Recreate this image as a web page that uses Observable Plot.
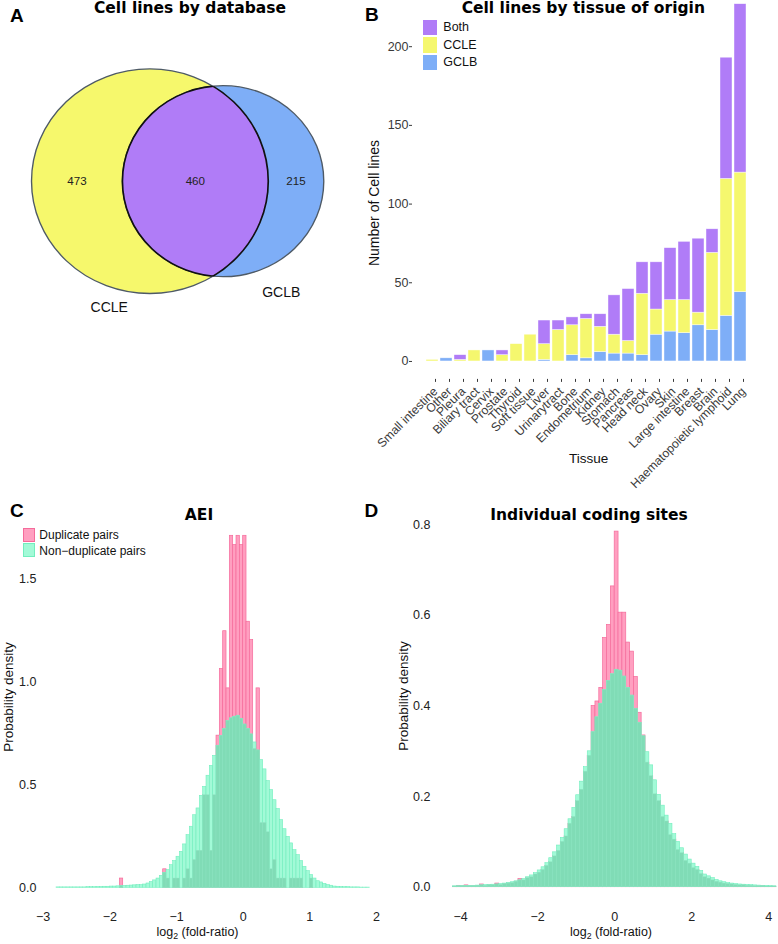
<!DOCTYPE html>
<html><head><meta charset="utf-8">
<script src="https://cdn.jsdelivr.net/npm/d3@7"></script>
<script src="https://cdn.jsdelivr.net/npm/@observablehq/plot@0.6"></script>
<style>
body{margin:0;background:#fff;}
#fig{position:relative;width:778px;height:944px;overflow:hidden;background:#fff;}
.pane{position:absolute;}
.t{position:absolute;white-space:nowrap;}
.t sub{font-size:0.7em;vertical-align:-0.3em;line-height:0;}
.sw{position:absolute;box-sizing:border-box;}
</style></head><body><div id="fig"></div>
<script>
// ---------------- DATA ----------------
// Panel A: Venn
const vennSets = ["CCLE", "GCLB"];
const vennOnly = [473, 215];
const vennBoth = 460;

// Panel B: cell lines by tissue
const tissues = ["Small intestine","Other","Pleura","Biliary tract","Cervix","Prostate","Thyroid","Soft tissue","Liver","Urinarytract","Bone","Endometrium","Kidney","Stomach","Pancreas","Head neck","Ovary","Skin","Large intestine","Breast","Brain","Haematopoietic lymphoid","Lung"];
const gclbCounts = [0,2,0,0,7,0,0,0,1,0,4,2,6,5,5,4,17,19,18,23,20,29,44];
const ccleCounts = [1,0,1,7,0,4,11,17,10,20,19,25,16,12,8,39,16,20,21,8,49,87,76];
const bothCounts = [0,0,3,0,0,3,0,0,15,6,5,3,8,25,33,20,30,33,37,47,15,77,107];
const tissueSeries = ["Both","CCLE","GCLB"];
const seriesColors = ["#b07cf7","#f5f76e","#7eaef7"];
const tissueTicks = [0,50,100,150,200];

// Panel C: AEI histogram (bins of 0.05 starting at -2.8)
const aeiBinStart = -2.8, aeiBinWidth = 0.05;
const aeiNonDup = [
 .002,.002,.002,.002,.002,.002,.002,.002,.002,.003,
 .003,.003,.004,.004,.005,.005,.006,.006,.007,.008,
 .009,.010,.011,.012,.013,.013,.016,.021,.028,.036,
 .045,.058,.073,.086,.110,.130,.151,.175,.211,.256,
 .297,.353,.386,.447,.491,.545,.593,.642,.691,.739,
 .772,.811,.824,.832,.837,.822,.794,.772,.746,.707,
 .668,.621,.576,.519,.475,.426,.383,.329,.285,.248,
 .216,.183,.159,.130,.102,.081,.062,.045,.032,.026,
 .019,.013,.010,.006,.005,.004,.003,.003,.002,.002,
 .002,.001,.001,.001];
const aeiDup = [
 0,0,0,0,0,0,0,0,0,0,
 0,0,0,0,0,0,0,0,0,.045,
 0,0,0,0,0,0,0,0,0,0,
 0,0,.09,.045,0,.045,.045,0,.045,.09,
 .045,.135,.18,.18,.45,.45,.18,.45,.74,1.064,
 1.248,.97,1.712,1.667,1.712,1.667,1.712,1.294,1.205,.675,
 .97,.315,.315,.27,.09,.135,.045,.045,.045,0,
 .045,.045,.045,.045,0,0,.045,0,0,0,
 0,0,0,0,0,0,0,0,0,0,
 0,0,0,0];
const aeiTicksX = [-3,-2,-1,0,1,2];
const aeiTicksY = [0,0.5,1,1.5];

// Panel D: individual coding sites (bins of 0.1 starting at -4.2)
const siteBinStart = -4.2, siteBinWidth = 0.1;
const siteNonDup = [
 .002,.002,.0025,.0025,.003,.003,.0035,.004,.0045,.005,
 .0055,.006,.007,.008,.0095,.011,.013,.015,.018,.022,
 .026,.031,.037,.044,.053,.064,.077,.092,.109,.128,
 .15,.175,.203,.233,.265,.3,.342,.375,.405,.435,
 .455,.47,.48,.478,.465,.44,.423,.394,.363,.333,
 .298,.269,.236,.204,.18,.158,.14,.117,.1,.086,
 .072,.061,.052,.045,.036,.028,.024,.02,.016,.013,
 .011,.009,.008,.007,.006,.0055,.005,.0045,.004,.0035,
 .003,.003,.0025,.002];
const siteDup = [
 .001,.003,.002,.004,.002,.002,.003,.006,.003,.004,
 .004,.008,.005,.007,.008,.009,.012,.018,.015,.02,
 .022,.028,.032,.038,.047,.055,.068,.08,.1,.112,
 .14,.155,.19,.215,.255,.29,.40,.41,.44,.55,
 .579,.664,.785,.606,.606,.54,.52,.464,.385,.335,
 .275,.245,.205,.19,.155,.145,.115,.105,.082,.075,
 .058,.052,.042,.038,.029,.022,.019,.015,.012,.01,
 .008,.007,.006,.005,.004,.004,.003,.003,.002,.002,
 .002,.001,.001,.001];
const siteTicksX = [-4,-2,0,2,4];
const siteTicksY = [0,0.2,0.4,0.6,0.8];

// ---------------- STYLE ----------------
const SANS = '"Liberation Sans", Arial, Helvetica, sans-serif';
const HEAVY = '"DejaVu Sans", "Liberation Sans", sans-serif';
const PINK = "#ff9fc0", PINK_S = "#f56b9b";
const MINT = "#a2fad7", MINT_S = "#72eebe";
const TEAL = "#80dcb6", TEAL_S = "#8fe4c2";
const fig = document.getElementById("fig");

function label(txt, x, baseline, o = {}) {
  const size = o.size || 12;
  const el = document.createElement("div");
  el.className = "t";
  el.style.fontSize = size + "px";
  el.style.lineHeight = size + "px";
  el.style.fontWeight = o.weight || "normal";
  el.style.fontFamily = o.family || SANS;
  el.style.color = o.color || "#000";
  if (o.html) el.innerHTML = txt; else el.textContent = txt;
  if (o.rotate) {
    el.style.left = x + "px"; el.style.top = baseline + "px";
    el.style.transform = "translate(-50%,-50%) rotate(-90deg)";
  } else {
    el.style.left = x + "px";
    el.style.top = (baseline - 0.846 * size) + "px";
    const tx = o.anchor === "middle" ? "-50%" : o.anchor === "end" ? "-100%" : "0";
    el.style.transform = `translateX(${tx})`;
  }
  fig.appendChild(el);
}
function swatch(x, y, w, h, fill, stroke) {
  const el = document.createElement("div");
  el.className = "sw";
  Object.assign(el.style, {left: x + "px", top: y + "px", width: w + "px", height: h + "px", background: fill, border: stroke ? `1px solid ${stroke}` : "none"});
  fig.appendChild(el);
}
function pane(node, left, top, extra = "") {
  const d = document.createElement("div");
  d.className = "pane";
  d.style.cssText = `left:${left}px;top:${top}px;${extra}`;
  d.appendChild(node);
  fig.appendChild(d);
}

// ---------------- PANEL A: Venn ----------------
const totA = vennOnly[0] + vennBoth, totB = vennOnly[1] + vennBoth;
const rA = Math.sqrt(totA / Math.PI), rB = Math.sqrt(totB / Math.PI);
function lensArea(d) {
  const a1 = Math.acos((d * d + rA * rA - rB * rB) / (2 * d * rA));
  const a2 = Math.acos((d * d + rB * rB - rA * rA) / (2 * d * rB));
  const k = Math.sqrt((-d + rA + rB) * (d + rA - rB) * (d - rA + rB) * (d + rA + rB));
  return rA * rA * a1 + rB * rB * a2 - 0.5 * k;
}
let lo = Math.abs(rA - rB) + 1e-9, hi = rA + rB - 1e-9;
for (let i = 0; i < 80; i++) { const m = (lo + hi) / 2; if (lensArea(m) > vennBoth) lo = m; else hi = m; }
const dAB = (lo + hi) / 2;
const vennRows = [{set: vennSets[0], cx: 0, total: totA}, {set: vennSets[1], cx: dAB, total: totB}];
const vennLabels = [
  {x: (-rA + (dAB - rB)) / 2, n: vennOnly[0]},
  {x: ((dAB - rB) + rA) / 2, n: vennBoth},
  {x: (rA + dAB + rB) / 2, n: vennOnly[1]}
];
const xLeft = 29.4, xRight = 306.7;
const pxPerUnit = (xRight - xLeft) / (rA + dAB + rB);
const vennPlot = Plot.plot({
  width: 340, height: 361.4, margin: 0,
  style: {background: "transparent", fontFamily: SANS, overflow: "visible"},
  x: {domain: [-rA, dAB + rB], range: [xLeft, xRight], axis: null},
  r: {type: "sqrt", domain: [0, totA], range: [0, rA * pxPerUnit]},
  color: {domain: ["CCLE", "GCLB"], range: ["#f6f86c", "#7eaef7"]},
  marks: [
    Plot.dot([vennRows[0]], {x: "cx", r: "total", fill: "set", stroke: "#4e5a66", strokeWidth: 1.3}),
    Plot.dot([vennRows[1]], {x: "cx", r: "total", fill: "set", stroke: "#4e5a66", strokeWidth: 1.3}),
    Plot.dot([vennRows[1]], {x: "cx", r: "total", fill: "#b07cf7", stroke: "#111", strokeWidth: 1.6}),
    Plot.dot([vennRows[0]], {x: "cx", r: "total", fill: "none", stroke: "#111", strokeWidth: 1.6}),
    Plot.text(vennLabels, {x: "x", text: d => String(d.n), fontSize: 11, fill: "#222"})
  ]
});
(function clipLens(svg) {
  const ns = "http://www.w3.org/2000/svg";
  const groups = Array.from(svg.querySelectorAll("g")).filter(g => g.querySelector(":scope > circle"));
  if (groups.length < 4) return;
  const defs = document.createElementNS(ns, "defs");
  function addClip(id, g) {
    const c = g.querySelector("circle");
    const cp = document.createElementNS(ns, "clipPath");
    cp.setAttribute("id", id);
    const cc = document.createElementNS(ns, "circle");
    ["cx", "cy", "r"].forEach(a => cc.setAttribute(a, c.getAttribute(a)));
    cp.appendChild(cc);
    defs.appendChild(cp);
  }
  addClip("vennClipA", groups[0]);
  addClip("vennClipB", groups[1]);
  svg.insertBefore(defs, svg.firstChild);
  groups[2].setAttribute("clip-path", "url(#vennClipA)");
  groups[3].setAttribute("clip-path", "url(#vennClipB)");
})(vennPlot);
pane(vennPlot, 0, 0, "transform:scaleX(1.054);transform-origin:0 0;");

// ---------------- PANEL B: stacked bars ----------------
const tissueRows = [];
tissues.forEach((t, i) => {
  tissueRows.push({tissue: t, series: "GCLB", n: gclbCounts[i]});
  tissueRows.push({tissue: t, series: "CCLE", n: ccleCounts[i]});
  tissueRows.push({tissue: t, series: "Both", n: bothCounts[i]});
});
const plotB = Plot.plot({
  width: 438, height: 505, marginLeft: 74, marginRight: 20.5, marginTop: 46.2, marginBottom: 126.1,
  style: {fontFamily: SANS, fontSize: "12px", color: "#3a3a3a", background: "transparent", overflow: "visible"},
  x: {domain: tissues, padding: 0.12, label: null},
  y: {domain: [-11.4, 200], label: null},
  color: {domain: tissueSeries, range: seriesColors},
  marks: [
    Plot.barY(tissueRows, {x: "tissue", y: "n", fill: "series", order: ["GCLB", "CCLE", "Both"], stroke: "white", strokeWidth: 0.6, strokeOpacity: 0.7}),
    Plot.axisY({ticks: tissueTicks, tickSize: 3, tickPadding: 1, dx: -2, label: null, fontSize: 12.5}),
    Plot.axisX({tickRotate: -45, tickSize: 3, tickPadding: 7, dx: 3, label: null, fontSize: 12.2})
  ]
});
pane(plotB, 340, 0);

// ---------------- PANELS C & D: histograms ----------------
function histRows(start, width, non, dup) {
  return non.map((g, i) => ({x1: start + i * width, x2: start + (i + 1) * width, non: g, dup: dup[i], both: Math.min(g, dup[i])}));
}
function histMarks(rows) {
  return [
    Plot.rectY(rows.filter(d => d.dup > 0), {x1: "x1", x2: "x2", y1: 0, y2: "dup", fill: PINK, stroke: PINK_S, strokeWidth: 0.7}),
    Plot.rectY(rows, {x1: "x1", x2: "x2", y1: 0, y2: "non", fill: MINT, stroke: MINT_S, strokeWidth: 0.6}),
    Plot.rectY(rows.filter(d => d.both > 0), {x1: "x1", x2: "x2", y1: 0, y2: "both", fill: TEAL, stroke: TEAL_S, strokeWidth: 0.4})
  ];
}
const fmt1 = d3.format(".1f");
const fmtInt = d3.format("d");
const plotC = Plot.plot({
  width: 390, height: 454, marginLeft: 42.7, marginRight: 14, marginTop: 88.9, marginBottom: 56.7,
  style: {fontFamily: SANS, fontSize: "12px", color: "#222", background: "transparent"},
  x: {domain: [-3, 2], label: null},
  y: {domain: [0, 1.5], label: null},
  marks: [
    ...histMarks(histRows(aeiBinStart, aeiBinWidth, aeiNonDup, aeiDup)),
    Plot.axisX({ticks: aeiTicksX, tickFormat: fmtInt, tickSize: 0, tickPadding: 24.5, label: null, fontSize: 12.5}),
    Plot.axisY({ticks: aeiTicksY, tickFormat: fmt1, tickSize: 0, tickPadding: 6.7, label: null, fontSize: 12.5})
  ]
});
pane(plotC, 0, 490);

const plotD = Plot.plot({
  width: 388, height: 454, marginLeft: 70.2, marginRight: 9.8, marginTop: 34.3, marginBottom: 57.3,
  style: {fontFamily: SANS, fontSize: "12px", color: "#222", background: "transparent"},
  x: {domain: [-4, 4], label: null},
  y: {domain: [0, 0.8], label: null},
  marks: [
    ...histMarks(histRows(siteBinStart, siteBinWidth, siteNonDup, siteDup)),
    Plot.axisX({ticks: siteTicksX, tickFormat: fmtInt, tickSize: 0, tickPadding: 25.1, label: null, fontSize: 12.5}),
    Plot.axisY({ticks: siteTicksY, tickFormat: fmt1, tickSize: 0, tickPadding: 30.2, label: null, fontSize: 12.5})
  ]
});
pane(plotD, 390, 490);

// ---------------- TEXT OVERLAYS ----------------
label("A", 10, 21.7, {size: 19, weight: "bold"});
label("B", 365, 21.5, {size: 19, weight: "bold"});
label("C", 10, 517, {size: 19, weight: "bold"});
label("D", 364.5, 517, {size: 19, weight: "bold"});

label("Cell lines by database", 190, 14, {size: 15.5, weight: "bold", family: HEAVY, anchor: "middle"});
label("Cell lines by tissue of origin", 583.3, 14, {size: 15.5, weight: "bold", family: HEAVY, anchor: "middle"});
label("AEI", 199, 520.7, {size: 15.5, weight: "bold", family: HEAVY, anchor: "middle"});
label("Individual coding sites", 589, 520.7, {size: 15.5, weight: "bold", family: HEAVY, anchor: "middle"});

label(vennSets[0], 109.3, 311.7, {size: 14, anchor: "middle", color: "#111"});
label(vennSets[1], 281.3, 297, {size: 14, anchor: "middle", color: "#111"});

label("Number of Cell lines", 373.5, 202.5, {size: 14, rotate: true, color: "#111"});
label("Tissue", 588.7, 463.3, {size: 13.5, anchor: "middle", color: "#111"});

// B legend
const legTops = [19.5, 37, 54.5];
tissueSeries.forEach((s, i) => {
  swatch(423.3, legTops[i], 14, 15.5, seriesColors[i]);
  label(s, 443.3, legTops[i] + 7.75 + 4.5, {size: 12.5, color: "#111"});
});

// C & D axis titles
label("Probability density", 9.2, 696.7, {size: 13.5, rotate: true, color: "#111"});
label("Probability density", 404, 695.8, {size: 13.5, rotate: true, color: "#111"});
label("log<sub>2</sub> (fold-ratio)", 197.5, 936.7, {size: 12.5, anchor: "middle", html: true, color: "#111"});
label("log<sub>2</sub> (fold-ratio)", 611, 936.7, {size: 12.5, anchor: "middle", html: true, color: "#111"});

// C legend
swatch(23, 528.3, 12, 13.6, PINK, PINK_S);
swatch(23, 543, 12, 13.6, MINT, MINT_S);
label("Duplicate pairs", 39.3, 539.3, {size: 12, color: "#111"});
label("Non\u2212duplicate pairs", 39.3, 555, {size: 12, color: "#111"});
</script></body></html>
